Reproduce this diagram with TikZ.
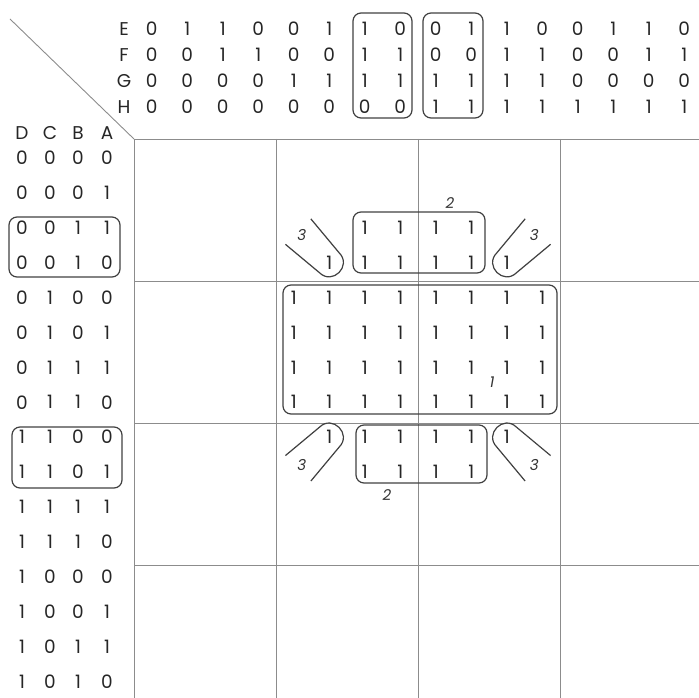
\documentclass[tikz,border=0pt]{standalone}
\usepackage{fontspec}
\setmainfont{Poppins}
\begin{document}
\begin{tikzpicture}[x=1pt,y=-1pt,
  txt/.style={font=\fontsize{18.5}{18.5}\selectfont, text=black!85, inner sep=0pt, anchor=center},
  lab/.style={font=\fontsize{15}{15}\selectfont\itshape, text=black!80, inner sep=0pt, anchor=center},
  gridline/.style={draw=black!45, line width=0.9pt},
  grp/.style={draw=black!75, line width=1.2pt, rounded corners=8pt},
  pin/.style={draw=black!75, line width=1.2pt}]
\useasboundingbox (0,0) rectangle (699,698);
% grid
\draw[gridline] (10,19) -- (134,139);
\draw[gridline] (134,139) -- (699,139);
\foreach \y in {281,423,565} \draw[gridline] (134,\y) -- (699,\y);
\foreach \x in {134,276,418,560} \draw[gridline] (\x,139) -- (\x,698);
% column headers
\node[txt] (hE) at (124,29) {E};
\node[txt] (hF) at (124,55) {F};
\node[txt] (hG) at (124,81) {G};
\node[txt] (hH) at (124,107) {H};
\foreach \v [count=\j from 0] in {0,1,1,0,0,1,1,0,0,1,1,0,0,1,1,0}
  \node[txt] (E\j) at ({151.75+35.5*\j},29) {\v};
\foreach \v [count=\j from 0] in {0,0,1,1,0,0,1,1,0,0,1,1,0,0,1,1}
  \node[txt] (F\j) at ({151.75+35.5*\j},55) {\v};
\foreach \v [count=\j from 0] in {0,0,0,0,1,1,1,1,1,1,1,1,0,0,0,0}
  \node[txt] (G\j) at ({151.75+35.5*\j},81) {\v};
\foreach \v [count=\j from 0] in {0,0,0,0,0,0,0,0,1,1,1,1,1,1,1,1}
  \node[txt] (H\j) at ({151.75+35.5*\j},107) {\v};
\draw[grp] (353,13) rectangle (412,118);
\draw[grp] (423,13) rectangle (483,118);
% row headers
\node[txt] (hD) at (22,133) {D};
\node[txt] (hC) at (50,133) {C};
\node[txt] (hB) at (78,133) {B};
\node[txt] (hA) at (107,133) {A};
\foreach \a/\b/\c/\d [count=\k from 0] in {0/0/0/0,0/0/0/1,0/0/1/1,0/0/1/0,0/1/0/0,0/1/0/1,0/1/1/1,0/1/1/0,1/1/0/0,1/1/0/1,1/1/1/1,1/1/1/0,1/0/0/0,1/0/0/1,1/0/1/1,1/0/1/0}{
  \node[txt] (rD\k) at (22,{158+34.9*\k}) {\a};
  \node[txt] (rC\k) at (50,{158+34.9*\k}) {\b};
  \node[txt] (rB\k) at (78,{158+34.9*\k}) {\c};
  \node[txt] (rA\k) at (107,{158+34.9*\k}) {\d};
}
\draw[grp] (9,217) rectangle (120,277);
\draw[grp] (12,427) rectangle (122,488);
% ones in the map
\foreach \k in {4,5,6,7}
  \foreach \j in {4,...,11}
    \node[txt] (m\k-\j) at ({151.75+35.5*\j},{158+34.9*\k}) {1};
\foreach \k in {2,3,8,9}
  \foreach \j in {6,...,9}
    \node[txt] (m\k-\j) at ({151.75+35.5*\j},{158+34.9*\k}) {1};
\foreach \k in {3,8}
  \foreach \j in {5,10}
    \node[txt] (m\k-\j) at ({151.75+35.5*\j},{158+34.9*\k}) {1};
% groups
\draw[grp] (283,285) rectangle (557,414);
\draw[grp] (353,212) rectangle (485,273);
\draw[grp] (356,425) rectangle (487,483);
\node[lab] (l1) at (492,382) {1};
\node[lab] (l2a) at (450,203) {2};
\node[lab] (l2b) at (387,495) {2};
% hairpins
\foreach \px/\py/\ang/\nm in {329.25/262.7/135/a, 506.75/262.7/45/b, 329.25/437.2/225/c, 506.75/437.2/315/d}{
  \begin{scope}[shift={(\px,\py)}, rotate=\ang]
    \draw[pin] (44,18) -- (0,14) .. controls (-18.5,14) and (-18.5,-14) .. (0,-14) -- (44,-18);
    \node[lab] (t3\nm) at (39,0) {3};
  \end{scope}
}
\end{tikzpicture}
\end{document}
